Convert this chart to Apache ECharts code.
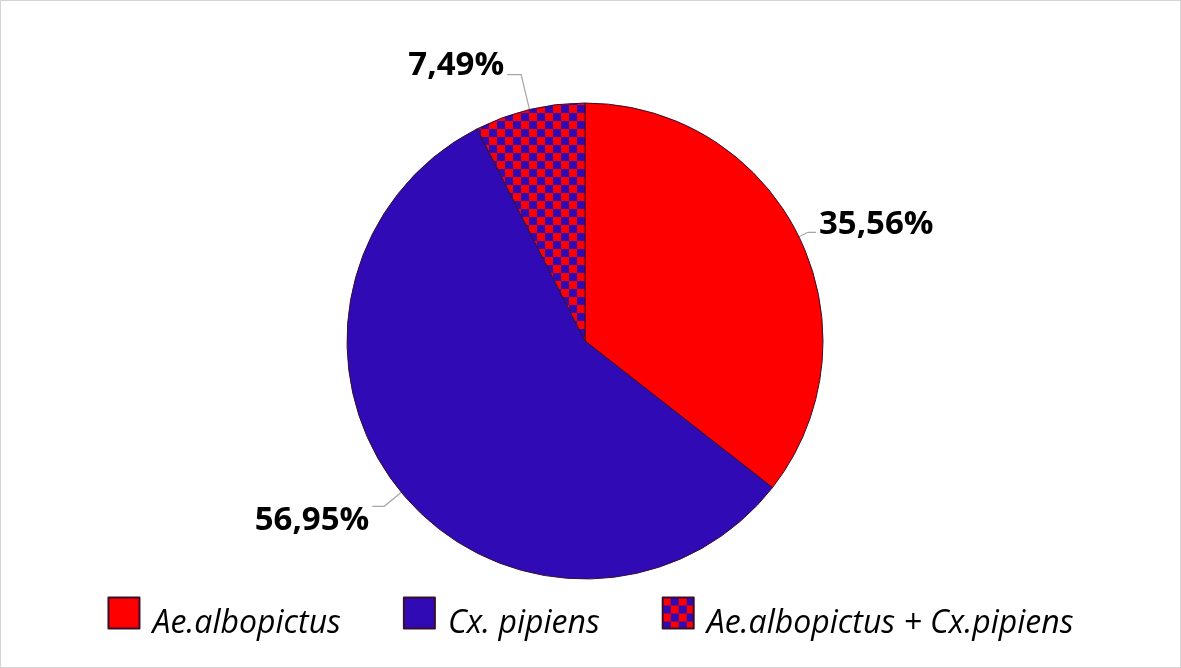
<!DOCTYPE html>
<html>
<head>
<meta charset="utf-8">
<script src="https://cdn.jsdelivr.net/npm/echarts@6/dist/echarts.min.js"></script>
<style>
html,body{margin:0;padding:0;background:#fff;}
#frame{width:1181px;height:668px;box-sizing:border-box;border:1px solid #d4d4d4;}
#chart{width:100%;height:100%;}
</style>
</head>
<body>
<div id="frame"><div id="chart"></div></div>
<script>
var categories = ['Ae.albopictus', 'Cx. pipiens', 'Ae.albopictus + Cx.pipiens'];
var values = [35.56, 56.95, 7.49];
var labels = ['35,56%', '56,95%', '7,49%'];

var RED = '#FF0000', BLUE = '#2F0AB5';

function checker() {
  var c = document.createElement('canvas');
  var s = 8;
  c.width = s * 2; c.height = s * 2;
  var g = c.getContext('2d');
  g.fillStyle = RED; g.fillRect(0, 0, s * 2, s * 2);
  g.fillStyle = BLUE;
  g.fillRect(s, 0, s, s);
  g.fillRect(0, s, s, s);
  return c;
}

var fills = [RED, BLUE, { image: checker(), repeat: 'repeat' }];
var lineLens = [[10, 8], [22, 12], [36, 14]];
var labelDy = [-8, 14, -9];

var data = categories.map(function (name, i) {
  return {
    name: name,
    value: values[i],
    itemStyle: { color: fills[i] },
    label: { formatter: labels[i] },
    labelLine: { length: lineLens[i][0], length2: lineLens[i][1] }
  };
});

var chart = echarts.init(document.getElementById('chart'));
chart.setOption({
  animation: false,
  legend: {
    top: 580,
    left: 'center',
    itemWidth: 31,
    itemHeight: 31,
    itemGap: 62,
    icon: 'rect',
    data: categories,
    formatter: function (name) { return '{t|' + name + '}'; },
    textStyle: {
      rich: {
        t: {
          fontFamily: 'Open Sans',
          fontStyle: 'italic',
          fontSize: 32,
          lineHeight: 32,
          color: '#000',
          padding: [22, 0, 0, 8]
        }
      }
    }
  },
  series: [{
    type: 'pie',
    center: [584, 340],
    radius: 238,
    startAngle: 90,
    clockwise: true,
    avoidLabelOverlap: false,
    itemStyle: { borderColor: '#3a0f2c', borderWidth: 1 },
    label: {
      show: true,
      position: 'outside',
      fontFamily: 'Open Sans',
      fontWeight: 'bold',
      fontSize: 33,
      color: '#000',
      distanceToLabelLine: 3
    },
    labelLayout: function (p) {
      return { dy: labelDy[p.dataIndex] };
    },
    labelLine: {
      show: true,
      lineStyle: { color: '#a6a6a6', width: 1.2 }
    },
    emphasis: { disabled: true },
    data: data
  }]
});
</script>
</body>
</html>
